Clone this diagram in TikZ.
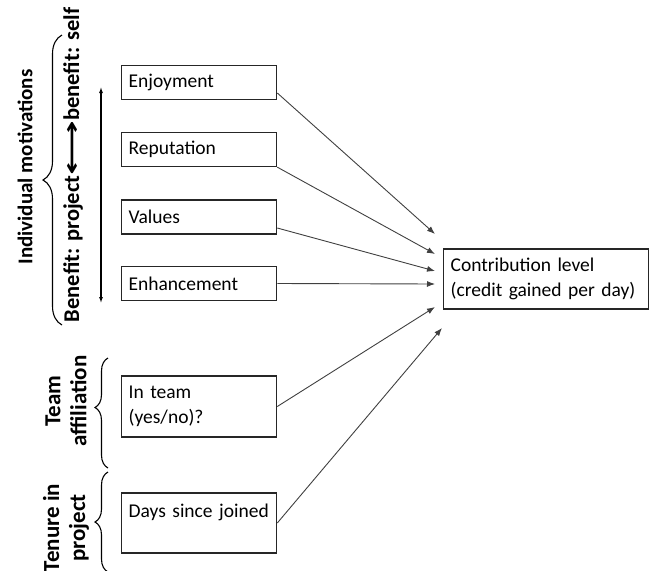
\documentclass[tikz,border=0pt]{standalone}
\usepackage{fontspec}
\setmainfont{Carlito}
\newfontfamily\symfont{DejaVu Sans}
\usetikzlibrary{arrows.meta, decorations.pathreplacing}

\begin{document}
\begin{tikzpicture}[x=1pt, y=-1pt,
    box/.style={draw=black!85, line width=1.3pt, anchor=west, minimum width=155pt, minimum height=34pt, text width=141pt, inner xsep=7pt, align=left, font=\fontsize{19.5}{25}\selectfont},
    side/.style={rotate=90, align=center, font=\bfseries\fontsize{#1}{26}\selectfont},
    side/.default=21,
    link/.style={draw=black!75, line width=0.9pt, -{Latex[length=8pt, width=6pt]}},
    curly/.style={decorate, decoration={brace, amplitude=#1}, line width=1.1pt}]
    \useasboundingbox (0,0) rectangle (649,571);
    \foreach \n/\t/\y in {enjoy/Enjoyment/82.5, reput/Reputation/149.5, values/Values/217, enhance/Enhancement/283.5}
        \node[box] (\n) at (121,\y) {\t};
    \node[box, minimum height=61pt] (team) at (121,406.5) {In team\\(yes/no)?};
    \node[box, minimum height=60pt] (days) at (121,523) {\mbox{Days since joined}\\\mbox{}};
    \node[box, minimum width=205pt, minimum height=60pt, text width=191pt] (contrib) at (443,279) {Contribution level\\(credit gained per day)};
    % links into contribution level
    \draw[link] ([yshift=-10.5pt]enjoy.east) -- ([shift={(-8,-45)}]contrib.west);
    \draw[link] (reput.south east) -- ([shift={(-8,-25)}]contrib.west);
    \draw[link] ([yshift=-11pt]values.east) -- ([shift={(-8,-8)}]contrib.west);
    \draw[link] (enhance.east) -- ([shift={(-8,5)}]contrib.west);
    \draw[link] (team.east) -- ([shift={(-8,28)}]contrib.west);
    \draw[link] (days.east) -- ([shift={(-1,49)}]contrib.west);
    % side labels
    \node[side] (indiv) at (25,167) {Individual motivations};
    \node[side=22.5] (benefit) at (73,165) {Benefit: project{\symfont\scalebox{1.7}[1]{⟷}}benefit: self};
    \node[side=23] (teamlbl) at (66,401) {Team\\affiliation};
    \node[side=23] (tenure) at (66,528) {Tenure in\\project};
    \coordinate (selftop) at (101,87);
    \coordinate (projbot) at (101,303);
    \draw[line width=1.1pt, {Latex[length=6pt, width=4pt]}-{Latex[length=6pt, width=4pt]}] (projbot) -- (selftop);
    \draw[curly=19pt] (62,325) -- (62,35);
    \draw[curly=13pt, decoration={aspect=0.55}] (108,468) -- (108,358);
    \draw[curly=13pt] (108,572) -- (108,472);
\end{tikzpicture}
\end{document}
